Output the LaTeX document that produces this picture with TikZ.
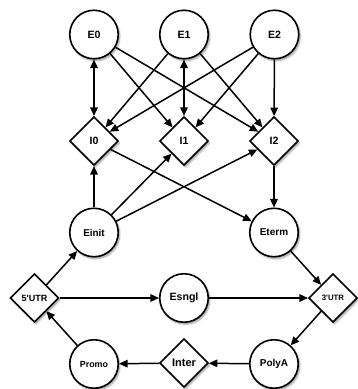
\documentclass[tikz,border=0pt]{standalone}
\usepackage{fontspec}
\newfontfamily\lblfont{Liberation Sans}[Ligatures=TeXOff]
\usetikzlibrary{shapes.geometric,arrows.meta,shadows.blur}

\begin{document}
\begin{tikzpicture}[x=1pt,y=-1pt,
  soft/.style={blur shadow={shadow xshift=1.5pt,shadow yshift=-2pt,shadow blur steps=6,shadow opacity=40}},
  fs/.style={font=\lblfont\bfseries\fontsize{#1}{#1}\selectfont},
  state/.style={circle,draw,line width=1.6pt,fill=white,minimum size=48.5pt,inner sep=0pt,soft,fs=#1},
  state/.default=10.6,
  gate/.style={diamond,aspect=1,draw,line width=1.6pt,fill=white,minimum width=48.5pt,minimum height=48.5pt,inner sep=0pt,soft,fs=#1},
  gate/.default=10.6,
  tipA/.tip={Triangle[length=8.5pt,width=7.5pt]},
  arr/.style={line width=1.5pt,-tipA},
  both/.style={line width=1.5pt,tipA-tipA}]

\useasboundingbox (0,0) rectangle (357,389);

% exon states
\node[state] (E0) at (94,34.5) {E0};
\node[state] (E1) at (184,34.5) {E1};
\node[state] (E2) at (274.5,34.5) {E2};
% intron states
\node[gate] (I0) at (94,141) {I0};
\node[gate] (I1) at (184,141) {I1};
\node[gate] (I2) at (274,141) {I2};
% initial / terminal exons
\node[state=9.9] (Einit) at (94,232.5) {Einit};
\node[state=10] (Eterm) at (274,232.5) {Eterm};
% UTRs and single exon
\node[gate=9] (U5) at (34.5,298) {5'UTR};
\node[state=10.6] (Esngl) at (184,298) {Esngl};
\node[gate=7.8] (U3) at (333,298) {3'UTR};
% promoter, intergenic, polyA
\node[state=8.9] (Promo) at (94,364) {Promo};
\node[gate=11] (Inter) at (184,363) {Inter};
\node[state=10] (PolyA) at (274,364) {PolyA};

% exon -> intron transitions
\draw[both] (E0) -- (I0);
\draw[arr] (E0) -- (I1);
\draw[arr] (E0) -- (I2);
\draw[arr] (E1) -- (I0);
\draw[both] (E1) -- (I1);
\draw[arr] (E1) -- (I2);
\draw[arr] (E2) -- (I0);
\draw[arr] (E2) -- (I1);
\draw[arr] (E2) -- (I2);

% initial exon and terminal exon
\draw[arr] (Einit) -- (I0);
\draw[arr] (Einit) -- (I1);
\draw[arr] (Einit) -- (I2);
\draw[arr] (I0) -- (Eterm);
\draw[arr] (I2) -- (Eterm);

% gene cycle
\draw[arr] (U5) -- (Einit);
\draw[arr] (U5) -- (Esngl);
\draw[arr] (Esngl) -- (U3);
\draw[arr] (Eterm) -- (U3);
\draw[arr] (U3) -- (PolyA);
\draw[arr] (PolyA) -- (Inter);
\draw[arr] (Inter) -- (Promo);
\draw[arr] (Promo) -- (U5);
\end{tikzpicture}
\end{document}
